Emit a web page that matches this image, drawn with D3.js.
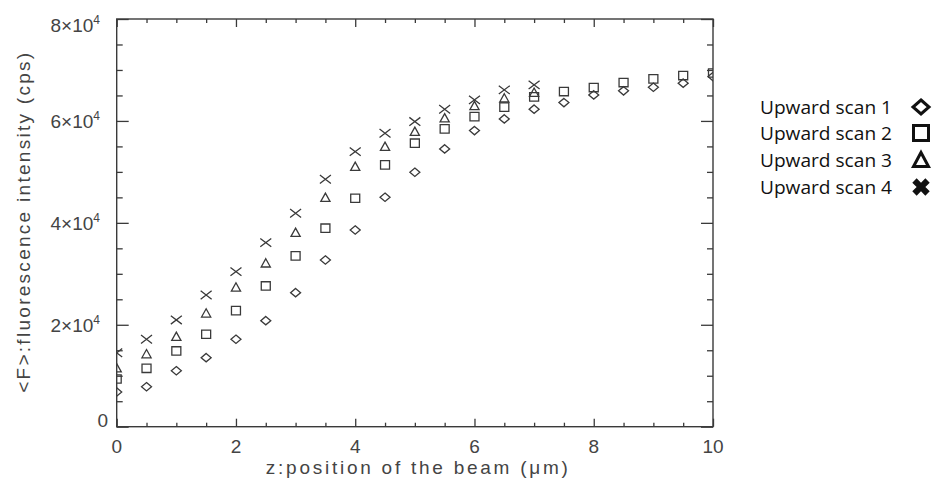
<!DOCTYPE html>
<html>
<head>
<meta charset="utf-8">
<script src="https://cdn.jsdelivr.net/npm/d3@7"></script>
<style>
	body { margin: 0; background: #ffffff; }
	svg { display: block; }
	.tick line { stroke: #3a3a3a; stroke-width: 1.3; }
	.domain { display: none; }
</style>
</head>
<body>
<div id="chart"></div>
<script>

// x positions (um)
const zFull = [0,0.5,1,1.5,2,2.5,3,3.5,4,4.5,5,5.5,6,6.5,7,7.5,8,8.5,9,9.5,10];
const zShort = [0,0.5,1,1.5,2,2.5,3,3.5,4,4.5,5,5.5,6,6.5,7];

// fluorescence intensity (cps)
const scan1 = [6800,7850,10990,13550,17160,20810,26300,32720,38610,45030,49940,54510,58100,60400,62310,63600,65110,65900,66620,67410,68700];
const scan2 = [9360,11460,14860,18140,22770,27620,33510,38950,44830,51370,55630,58440,60850,62700,64720,65760,66550,67530,68250,68900,69400];
const scan3 = [11500,14270,17670,22260,27360,32080,38080,44950,51040,54960,57910,60540,62950,64460,65570];
const scan4 = [14500,17160,20950,25850,30430,36120,41890,48560,53980,57590,59870,62300,64130,66090,67080];

const legendNames = ['Upward scan 1','Upward scan 2','Upward scan 3','Upward scan 4'];

const xMajor = [0,2,4,6,8,10];
const xMinor = [0.5,1,1.5,2.5,3,3.5,4.5,5,5.5,6.5,7,7.5,8.5,9,9.5];
const yMajor = [0,20000,40000,60000,80000];
const yMinor = [5000,10000,15000,25000,30000,35000,45000,50000,55000,65000,70000,75000];

const W = 933, H = 483;
const margin = { top: 19, bottom: 56.3, left: 116.7, right: 220 };
const ink = '#3a3a3a';
const axisFont = '"Liberation Sans", Arial, sans-serif';

let svg = d3.select('#chart').append('svg')
	.attr('width', W)
	.attr('height', H);

let x = d3.scaleLinear().domain([0, 10]).range([margin.left, W - margin.right]);
let y = d3.scaleLinear().domain([0, 80000]).range([H - margin.bottom, margin.top]);

const x0 = x(0), x1 = x(10), y0 = y(0), y1 = y(80000);

// ticks on all four sides, pointing inward
function tickAxis(axis, values, size, tx, ty){
	svg.append('g')
		.attr('transform', 'translate(' + tx + ',' + ty + ')')
		.call(axis.tickValues(values).tickSize(size).tickFormat(''));
}
tickAxis(d3.axisBottom(x), xMajor, -8, 0, y0);
tickAxis(d3.axisBottom(x), xMinor, -4, 0, y0);
tickAxis(d3.axisTop(x), xMajor, -8, 0, y1);
tickAxis(d3.axisTop(x), xMinor, -4, 0, y1);
tickAxis(d3.axisLeft(y), yMajor, -12, x0, 0);
tickAxis(d3.axisLeft(y), yMinor, -6, x0, 0);
tickAxis(d3.axisRight(y), yMajor, -12, x1, 0);
tickAxis(d3.axisRight(y), yMinor, -6, x1, 0);

svg.append('rect')
	.attr('x', x0)
	.attr('y', y1)
	.attr('width', x1 - x0)
	.attr('height', y0 - y1)
	.attr('fill', 'none')
	.attr('stroke', ink)
	.attr('stroke-width', 1.4);

// tick labels
svg.selectAll('.xlab')
	.data(xMajor)
	.enter().append('text')
	.attr('class', 'xlab')
	.attr('x', d => x(d))
	.attr('y', y0 + 26.5)
	.attr('text-anchor', 'middle')
	.attr('font-family', axisFont)
	.attr('font-size', 19)
	.attr('fill', '#444')
	.text(d => d);

let ylab = svg.selectAll('.ylab')
	.data(yMajor)
	.enter().append('text')
	.attr('class', 'ylab')
	.attr('x', d => d === 0 ? 108 : 100)
	.attr('y', d => {
		if (d === 0) return y(d);
		if (d === 80000) return y(d) + 12.5;
		return y(d) + 7.5;
	})
	.attr('text-anchor', 'end')
	.attr('font-family', axisFont)
	.attr('font-size', 19)
	.attr('fill', '#444');

ylab.filter(d => d === 0).text('0');
ylab.filter(d => d !== 0).each(function(d){
	const t = d3.select(this);
	t.append('tspan').text((d / 10000) + '×10');
	t.append('tspan').attr('dy', -8).attr('font-size', 12).text('4');
});

// axis titles
svg.append('text')
	.attr('x', (x0 + x1) / 2 + 2)
	.attr('y', 474)
	.attr('text-anchor', 'middle')
	.attr('font-family', axisFont)
	.attr('font-size', 19)
	.attr('textLength', 302)
	.attr('lengthAdjust', 'spacing')
	.attr('fill', '#444')
	.text('z:position of the beam (μm)');

svg.append('text')
	.attr('transform', 'translate(30,' + ((y0 + y1) / 2) + ') rotate(-90)')
	.attr('text-anchor', 'middle')
	.attr('font-family', axisFont)
	.attr('font-size', 19)
	.attr('textLength', 340)
	.attr('lengthAdjust', 'spacing')
	.attr('fill', '#444')
	.text('<F>:fluorescence intensity (cps)');

// markers are clipped by the frame
svg.append('clipPath')
	.attr('id', 'plotClip')
	.append('rect')
	.attr('x', x0)
	.attr('y', y1)
	.attr('width', x1 - x0)
	.attr('height', y0 - y1);

let plot = svg.append('g').attr('clip-path', 'url(#plotClip)');

function pts(zs, vs){
	return zs.map((z, i) => ({ z: z, v: vs[i] }));
}

const markerPaths = {
	diamond: 'M0,-4.2L5,0L0,4.2L-5,0Z',
	square: 'M-4.5,-4.2H4.5V4.2H-4.5Z',
	triangle: 'M0,-4.5L4.6,3.8H-4.6Z',
	cross: 'M-5.5,-4.2L5.5,4.2M5.5,-4.2L-5.5,4.2'
};

const series = [
	{ data: pts(zFull, scan1), shape: 'diamond' },
	{ data: pts(zFull, scan2), shape: 'square' },
	{ data: pts(zShort, scan3), shape: 'triangle' },
	{ data: pts(zShort, scan4), shape: 'cross' }
];

series.forEach(function(s){
	plot.selectAll(null)
		.data(s.data)
		.enter().append('path')
		.attr('transform', d => 'translate(' + x(d.z) + ',' + y(d.v) + ')')
		.attr('d', markerPaths[s.shape])
		.attr('fill', 'none')
		.attr('stroke', ink)
		.attr('stroke-width', 1.3);
});

// legend
const legendY = [107, 133, 160, 187];
const legendMarks = [
	'M0,-7L8,0L0,7L-8,0Z',
	'M-7.5,-7.5H7.5V7.5H-7.5Z',
	'M0,-7.5L7.5,6.5H-7.5Z',
	d3.symbol().type(d3.symbolCross).size(190)()
];

let legend = svg.append('g');
legendNames.forEach(function(name, i){
	legend.append('text')
		.attr('x', 760)
		.attr('y', legendY[i] + 7)
		.attr('font-family', '"Open Sans", "Liberation Sans", sans-serif')
		.attr('font-size', 19)
		.attr('textLength', 132)
		.attr('lengthAdjust', 'spacingAndGlyphs')
		.attr('fill', '#111')
		.text(name);

	let m = legend.append('path')
		.attr('d', legendMarks[i]);
	if (i === 3) {
		m.attr('transform', 'translate(921,' + legendY[i] + ') rotate(45)')
			.attr('fill', '#111');
	} else {
		m.attr('transform', 'translate(921,' + legendY[i] + ')')
			.attr('fill', 'none')
			.attr('stroke', '#111')
			.attr('stroke-width', 3);
	}
});

</script>
</body>
</html>
